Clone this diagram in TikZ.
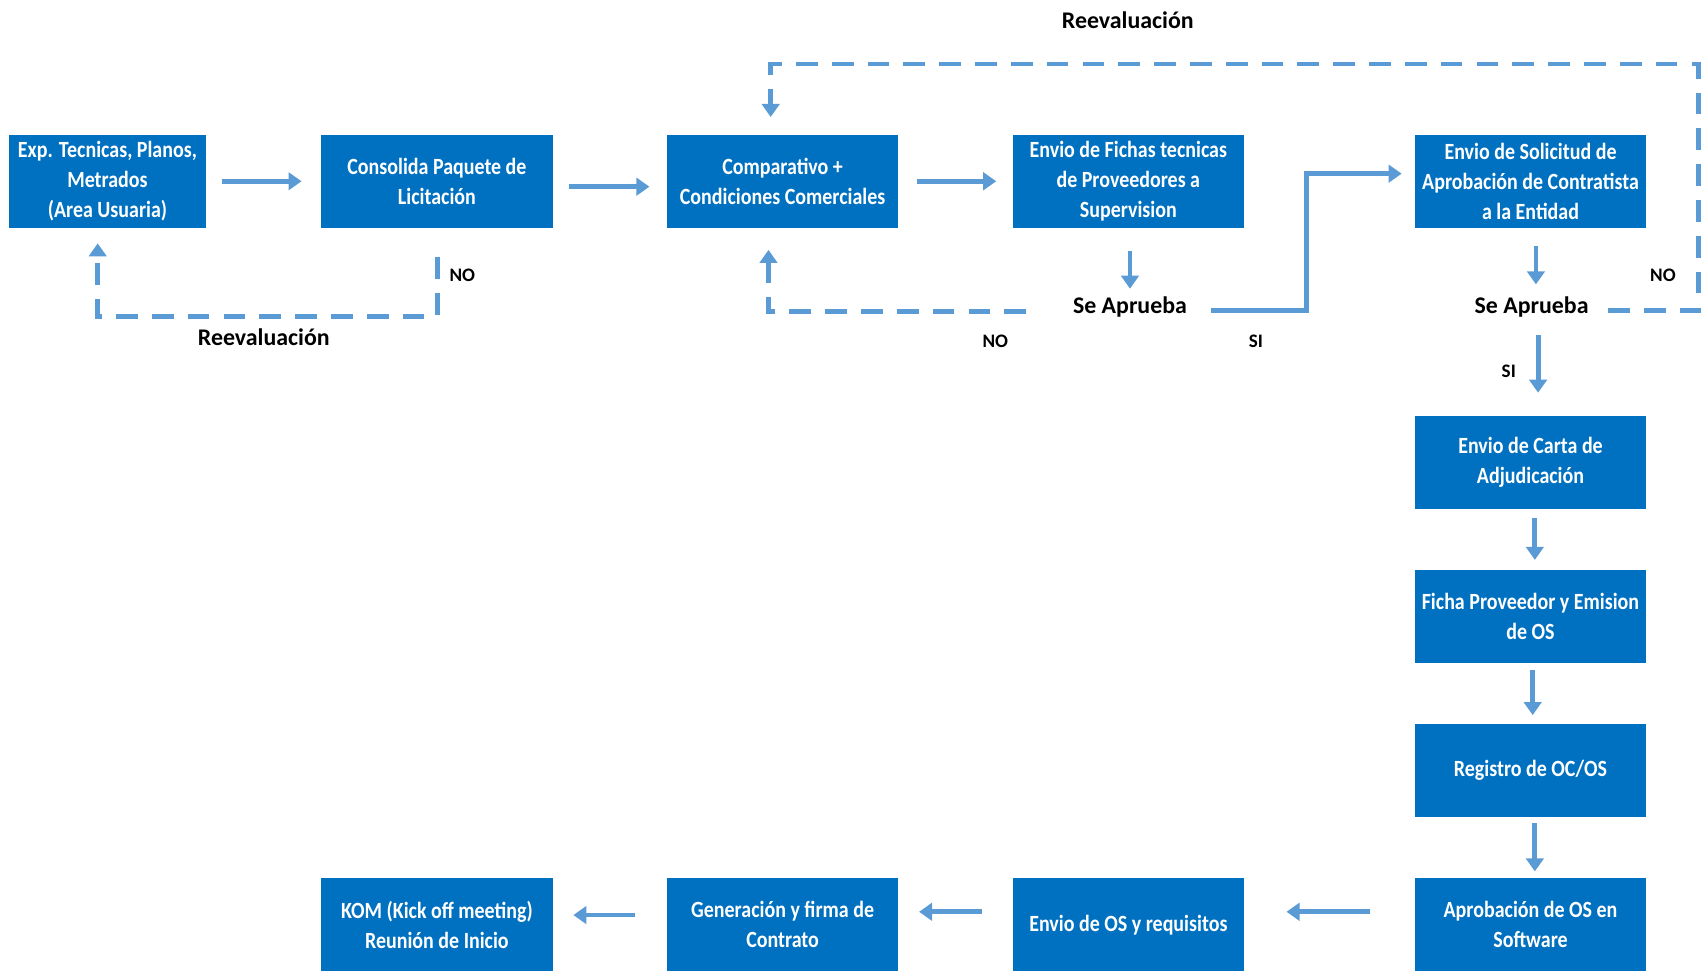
\documentclass[tikz,border=0pt]{standalone}
\usepackage{fontspec}
\setmainfont{Carlito}
\newfontfamily\procfamily{Carlito}[FakeStretch=0.86]
\usetikzlibrary{arrows.meta,calc}

\definecolor{boxblue}{HTML}{0070C0}
\definecolor{arrblue}{HTML}{5B9BD5}

\newcommand\procfont{\procfamily\bfseries\fontsize{21.4}{27.6}\selectfont}
\newcommand\lblfont{\bfseries\fontsize{22}{26}\selectfont}
\newcommand\tagfont{\bfseries\fontsize{17.6}{20}\selectfont}

\tikzset{
  proc/.style={fill=boxblue, text=white, minimum width=213pt, minimum height=86pt,
               inner sep=0pt, align=center, font=\procfont},
  lbl/.style={inner sep=0pt, font=\lblfont, text=black},
  tag/.style={inner sep=0pt, font=\tagfont, text=black},
  arr/.style={draw=arrblue, line width=4.5pt, -{Triangle[width=16pt,length=12pt]}},
  dasharr/.style={arr, dash pattern=on 20pt off 13pt},
}

\begin{document}
\begin{tikzpicture}[x=1pt,y=-1pt]
  \useasboundingbox (0,0) rectangle (1568,894);

  % top row
  \node[proc, minimum width=182pt] (b1) at (99,167) {Exp. Tecnicas, Planos,\\Metrados\\(Area Usuaria)};
  \node[proc] (b2) at (402.5,167) {Consolida Paquete de\\Licitación};
  \node[proc] (b3) at (721,167) {Comparativo +\\Condiciones Comerciales};
  \node[proc] (b4) at (1039.5,167) {Envio de Fichas tecnicas\\de Proveedores a\\Supervision};
  \node[proc] (b5) at (1410,167) {Envio de Solicitud de\\Aprobación de Contratista\\a la Entidad};

  % right column
  \node[proc] (b6) at (1410,426) {Envio de Carta de\\Adjudicación};
  \node[proc] (b7) at (1410,568) {Ficha Proveedor y Emision\\de OS};
  \node[proc] (b8) at (1410,710) {Registro de OC/OS};
  \node[proc] (b9) at (1410,852) {Aprobación de OS en\\Software};

  % bottom row
  \node[proc] (b10) at (1039.5,852) {Envio de OS y requisitos};
  \node[proc] (b11) at (721,852) {Generación y firma de\\Contrato};
  \node[proc] (b12) at (402.5,852) {KOM (Kick off meeting)\\Reunión de Inicio};

  % decisions and labels
  \node[lbl] (sa1) at (1041,283) {Se Aprueba};
  \node[lbl] (sa2) at (1411,283) {Se Aprueba};
  \node[lbl] (re1) at (1039,19) {Reevaluación};
  \node[lbl] (re2) at (243,311) {Reevaluación};
  \node[tag] (no1) at (426,254) {NO};
  \node[tag] (no2) at (917,314) {NO};
  \node[tag] (no3) at (1532,254) {NO};
  \node[tag] (si1) at (1157,314) {SI};
  \node[tag] (si2) at (1390,342) {SI};

  % main flow
  \draw[arr] ($(b1.east)+(14,0)$) -- ($(b2.west)+(-18,0)$);
  \draw[arr] ($(b2.east)+(15,5)$) -- ($(b3.west)+(-16,5)$);
  \draw[arr] ($(b3.east)+(17,0)$) -- ($(b4.west)+(-15,0)$);
  \draw[arr] ($(b4.south)+(1.5,21)$) -- ($(sa1.center)+(0,-17)$);
  \draw[arr] ($(sa1.east)+(22,3)$) -- ++(88,0) |- ($(b5.west)+(-12,-7)$);
  \draw[arr] ($(b5.south)+(5,16)$) -- ($(sa2.center)+(4,-21)$);
  \draw[arr] ($(sa2.center)+(6,26)$) -- ($(b6.north)+(7,-21)$);
  \draw[arr] ($(b6.south)+(4,8)$) -- ($(b7.north)+(4,-9)$);
  \draw[arr] ($(b7.south)+(2,6)$) -- ($(b8.north)+(2,-8)$);
  \draw[arr] ($(b8.south)+(4,5)$) -- ($(b9.north)+(4,-6)$);
  \draw[arr] ($(b9.west)+(-41,-12)$) -- ($(b10.east)+(39,-12)$);
  \draw[arr] ($(b10.west)+(-28,-12)$) -- ($(b11.east)+(19,-12)$);
  \draw[arr] ($(b11.west)+(-29,-9)$) -- ($(b12.east)+(19,-9)$);

  % re-evaluation loops
  \draw[dasharr] ($(b2.south)+(0.5,27)$) -- ++(0,54) -| ($(b1.south)+(-9,14)$);
  \draw[dasharr] ($(sa1.west)+(-43,4)$) -| ($(b3.south)+(-13,20)$);
  \coordinate (rt) at (1565,59);
  \draw[dasharr] ($(sa2.east)+(18,3)$) -| (rt) -| ($(b3.north)+(-11,-16)$);
\end{tikzpicture}
\end{document}
